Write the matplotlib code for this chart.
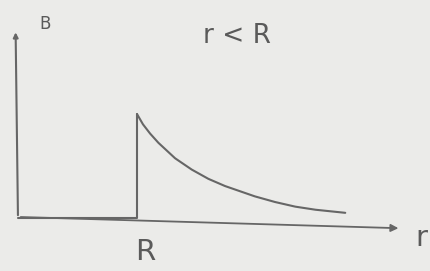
## Sketch of B(r): zero inside, jump at R, then decaying outside
import matplotlib.pyplot as plt

# values (r in units where R = 1, B normalised to jump height)
r_inside = [0.0, 1.0, 1.0]
b_inside = [0.0, 0.0, 1.01]
r_outside = [1.00, 1.05, 1.11, 1.18, 1.32, 1.46, 1.60, 1.74, 1.89, 1.99, 2.16, 2.33, 2.50, 2.75]
b_outside = [1.01, 0.91, 0.82, 0.73, 0.58, 0.47, 0.38, 0.31, 0.25, 0.21, 0.155, 0.11, 0.08, 0.05]

axis_r_end = [3.22, -0.10]
axis_b_end = [-0.02, 1.83]

bg = '#ebebe9'
ink = '#666666'

fig = plt.figure(figsize=(4.3, 2.71), dpi=100, facecolor=bg)
ax = fig.add_axes([0, 0, 1, 1])
ax.set_facecolor(bg)
ax.set_xlim(-0.151, 3.462)
ax.set_ylim(-0.515, 2.117)
ax.axis('off')

# axes drawn as arrows
ax.annotate('', xy=(axis_r_end[0], axis_r_end[1]), xytext=(0, 0.01),
            arrowprops=dict(arrowstyle='-|>', color=ink, lw=1.3, mutation_scale=11))
ax.annotate('', xy=(axis_b_end[0], axis_b_end[1]), xytext=(0, 0),
            arrowprops=dict(arrowstyle='-|>', color=ink, lw=1.5, mutation_scale=7))

# the curve
ax.plot(r_inside, b_inside, color=ink, lw=1.5, solid_capstyle='round')
ax.plot(r_outside, b_outside, color=ink, lw=1.5, solid_capstyle='round',
        solid_joinstyle='round')

font = dict(family='DejaVu Sans', color='#5a5a5a', fontweight='normal')
ax.text(0.23, 1.88, 'B', fontsize=12, ha='center', va='center', **font)
ax.text(1.84, 1.77, 'r < R', fontsize=19, ha='center', va='center', **font)
ax.text(1.07, -0.33, 'R', fontsize=21, ha='center', va='center', **font)
ax.text(3.39, -0.19, 'r', fontsize=21, ha='center', va='center', **font)

fig.savefig('out.png', dpi=100, facecolor=bg)
